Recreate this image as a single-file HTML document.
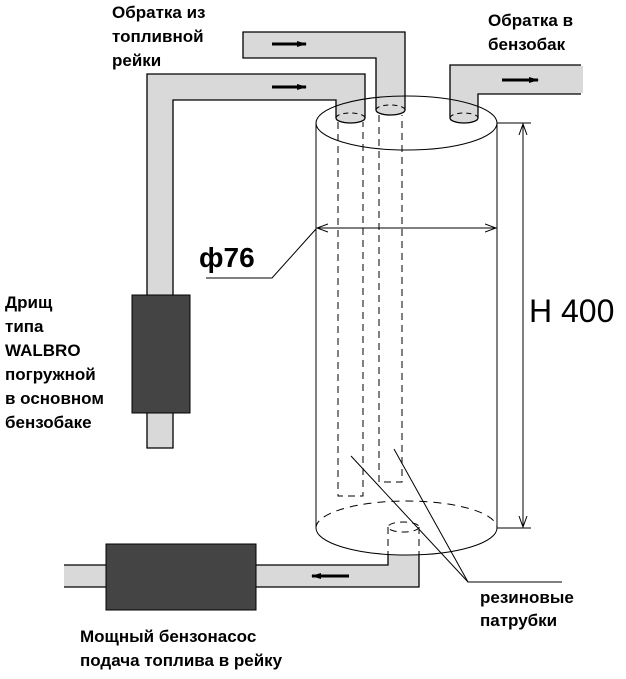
<!DOCTYPE html>
<html><head><meta charset="utf-8"><style>
html,body{margin:0;padding:0;background:#fff;}
svg{display:block;}
text{font-family:"Liberation Sans",Arial,sans-serif;font-weight:bold;fill:#000;}
</style></head><body>
<svg width="626" height="679" viewBox="0 0 626 679" xmlns="http://www.w3.org/2000/svg">
<defs>
<marker id="ah" markerWidth="10" markerHeight="8" refX="9" refY="4" orient="auto" markerUnits="userSpaceOnUse"><path d="M0,1 L10,4 L0,7 Z" fill="#000"/></marker>
<marker id="oa" markerWidth="12" markerHeight="10" refX="11" refY="5" orient="auto-start-reverse" markerUnits="userSpaceOnUse"><path d="M0,1 L11,5 L0,9" fill="none" stroke="#000" stroke-width="1"/></marker>
</defs>
<rect x="64" y="565" width="355" height="22" fill="#d9d9d9"/>
<rect x="388" y="555" width="31" height="20" fill="#d9d9d9"/>
<g stroke="#000" stroke-width="1.3" fill="#d9d9d9">
<path d="M243,32 L405,32 L405,110 A14.5,5 0 0 1 376,110 L376,58 L243,58 Z"/>
<path d="M147,448 L147,74 L365,74 L365,118 A14.5,5 0 0 1 336,118 L336,100 L173,100 L173,448 Z"/>
<path d="M581,65 L450,65 L450,118 A14,5 0 0 0 478,118 L478,94 L581,94"/>
<path d="M388,555 L388,565 L64,565 M64,587 L419,587 L419,555" fill="none"/>
</g>
<rect x="579" y="66" width="4" height="27" fill="#d9d9d9"/>
<rect x="132" y="295" width="58" height="118" fill="#444" stroke="#000"/>
<rect x="106" y="544" width="150" height="66" fill="#444" stroke="#000"/>
<g fill="none" stroke="#000" stroke-width="1">
<ellipse cx="406.5" cy="123" rx="90.5" ry="27"/>
<line x1="316" y1="123" x2="316" y2="528"/>
<line x1="497" y1="123" x2="497" y2="528"/>
<path d="M316,528 A90.5,27 0 0 0 497,528"/>
<path d="M316,528 A90.5,27 0 0 1 497,528" stroke-dasharray="8,6"/>
<path d="M336,118 A14.5,5 0 0 1 365,118" stroke-dasharray="5,4"/>
<path d="M376,110 A14.5,5 0 0 1 405,110" stroke-dasharray="5,4"/>
<path d="M450,118 A14,5 0 0 1 478,118" stroke-dasharray="5,4"/>
<g stroke-dasharray="7,5">
<path d="M338,122 L338,496 L363,496 L363,122"/>
<path d="M379,115 L379,482 L402,482 L402,115"/>
<ellipse cx="403.5" cy="527" rx="15.5" ry="5"/>
<line x1="388" y1="527" x2="388" y2="555"/>
<line x1="419" y1="527" x2="419" y2="555"/>
</g>
<line x1="317" y1="228" x2="496" y2="228" marker-start="url(#oa)" marker-end="url(#oa)"/>
<path d="M316,229 L272,278 L206,278"/>
<line x1="497" y1="123" x2="531" y2="123"/>
<line x1="497" y1="528" x2="531" y2="528"/>
<line x1="523" y1="124" x2="523" y2="527" marker-start="url(#oa)" marker-end="url(#oa)"/>
<path d="M351,456 L468,582 L562,582"/>
<line x1="394" y1="449" x2="468" y2="582"/>
</g>
<g stroke="#000" stroke-width="3">
<line x1="272" y1="44" x2="306" y2="44" marker-end="url(#ah)"/>
<line x1="272" y1="87" x2="306" y2="87" marker-end="url(#ah)"/>
<line x1="502" y1="80" x2="538" y2="80" marker-end="url(#ah)"/>
<line x1="349" y1="576" x2="312" y2="576" marker-end="url(#ah)"/>
</g>
<g font-size="17">
<text x="112" y="18">Обратка из</text>
<text x="112" y="42">топливной</text>
<text x="112" y="66">рейки</text>
<text x="488" y="26">Обратка в</text>
<text x="488" y="50">бензобак</text>
<text x="5" y="308">Дрищ</text>
<text x="5" y="332">типа</text>
<text x="5" y="356">WALBRO</text>
<text x="5" y="380">погружной</text>
<text x="5" y="404">в основном</text>
<text x="5" y="428">бензобаке</text>
<text x="480" y="603">резиновые</text>
<text x="480" y="626">патрубки</text>
<text x="80" y="642">Мощный бензонасос</text>
<text x="80" y="666">подача топлива в рейку</text>
</g>
<text x="199" y="267" font-size="28">ф76</text>
<text x="529" y="322" font-size="32" style="font-weight:normal">H 400</text>
</svg>
</body></html>
